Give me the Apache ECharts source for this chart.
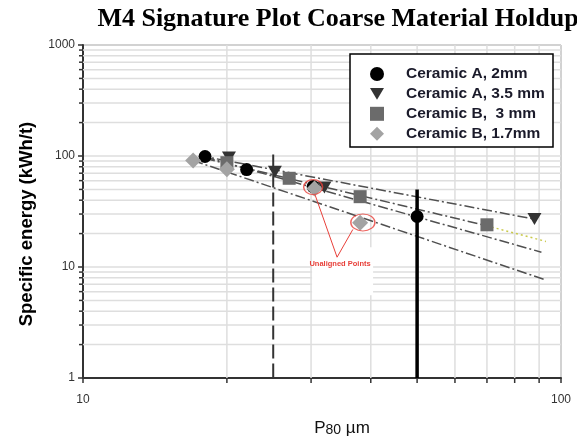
<!DOCTYPE html>
<html><head><meta charset="utf-8">
<script src="https://cdn.jsdelivr.net/npm/echarts@6/dist/echarts.min.js"></script>
<style>html,body{margin:0;padding:0;background:#fff}#c{width:577px;height:442px}</style>
</head><body><div id="c"></div>
<script>
// ---- data ----
const seriesNames = ['Ceramic A, 2mm', 'Ceramic A, 3.5 mm', 'Ceramic B,  3 mm', 'Ceramic B, 1.7mm'];
const ceramicA2  = [[18, 99], [22, 75.5], [30.3, 53], [50, 28.5]];
const ceramicA35 = [[20.2, 97], [25.2, 72], [32, 52], [88, 27]];
const ceramicB3  = [[20, 87], [27, 63], [38, 43], [70, 24]];
const ceramicB17 = [[17, 91], [20, 76], [30.5, 51], [38, 25]];
const trendA35 = [[17.5, 101], [88, 27]];
const trendB3 = [[18, 95], [70, 23.5]];
const trendB3Ext = [[70, 23.5], [93, 17]];
const trendA2 = [[18, 98], [91, 13.6]];
const trendB17 = [[17, 91], [92, 7.75]];
const refDashed = [[25, 103], [25, 1]];
const refSolid = [[50, 50], [50, 1]];
const xMinor = [20, 30, 40, 50, 60, 70, 80, 90];
const yMinor = [2,3,4,5,6,7,8,9,20,30,40,50,60,70,80,90,200,300,400,500,600,700,800,900];
const annotPoints = [[30.3, 52.5], [38.5, 25.2]];
const annotLabelAt = [34.5, 10.6];
const annotText = 'Unaligned Points';
const yAxisTitle = 'Specific energy (kWh/t)';

const chart = echarts.init(document.getElementById('c'));
const GRID = '#dedede';
const trendStyle = {color: '#505050', width: 1.5, type: [10, 3, 2, 3]};

function gridSeries(vals, isX) {
  return {
    type: 'custom', silent: true, z: 1, clip: false,
    data: vals.map(v => isX ? [v, 1] : [10, v]),
    encode: {x: 0, y: 1},
    renderItem(params, api) {
      if (isX) {
        const v = api.value(0);
        const a = api.coord([v, 1]), b = api.coord([v, 1000]);
        return {type: 'group', children: [
          {type: 'line', shape: {x1: a[0], y1: a[1], x2: b[0], y2: b[1]}, style: {stroke: GRID, lineWidth: 1.5}},
          {type: 'line', shape: {x1: a[0], y1: a[1], x2: a[0], y2: a[1] + 5}, style: {stroke: '#333', lineWidth: 1.5}}
        ]};
      } else {
        const v = api.value(1);
        const a = api.coord([10, v]), b = api.coord([100, v]);
        return {type: 'group', children: [
          {type: 'line', shape: {x1: a[0], y1: a[1], x2: b[0], y2: b[1]}, style: {stroke: GRID, lineWidth: 1.5}},
          {type: 'line', shape: {x1: a[0] - 4, y1: a[1], x2: a[0], y2: a[1]}, style: {stroke: '#333', lineWidth: 1.5}}
        ]};
      }
    }
  };
}
function trend(data, style) {
  return {type: 'line', data, symbol: 'none', silent: true, z: 3, lineStyle: style, animation: false};
}
const triPath = 'path://M0,0 L12,0 L6,10 Z';

chart.setOption({
  animation: false,
  title: {text: 'M4 Signature Plot Coarse Material Holdup', left: 333, top: 1, textAlign: 'center',
    textStyle: {fontFamily: 'Liberation Serif', fontWeight: 'bold', fontSize: 26, color: '#000'}},
  grid: {left: 83, right: 16, top: 45, bottom: 63, show: true, borderColor: '#666', borderWidth: 1, backgroundColor: 'transparent'},
  xAxis: {type: 'log', logBase: 10, min: 10, max: 100,
    name: '{p|P}{s|80}{p| µm}', nameLocation: 'middle', nameGap: 38,
    nameTextStyle: {padding: [0, 0, 0, 40], rich: {p: {fontFamily: 'Liberation Sans', fontSize: 17, color: '#111', verticalAlign: 'bottom'},
      s: {fontFamily: 'Liberation Sans', fontSize: 14, color: '#111', padding: [7, 0, 0, 0], verticalAlign: 'bottom'}}},
    axisLine: {lineStyle: {color: '#333', width: 2}},
    axisTick: {show: true, length: 5, lineStyle: {color: '#333', width: 1.5}},
    axisLabel: {fontFamily: 'Liberation Sans', fontSize: 12, color: '#333', margin: 16,
      formatter: v => (Math.abs(v - 10) < 1e-6 || Math.abs(v - 100) < 1e-6) ? String(Math.round(v)) : ''},
    splitLine: {show: true, lineStyle: {color: GRID, width: 1.5}}},
  yAxis: {type: 'log', logBase: 10, min: 1, max: 1000,
    axisLine: {lineStyle: {color: '#333', width: 2}},
    axisTick: {show: true, length: 5, lineStyle: {color: '#333', width: 1.5}},
    axisLabel: {fontFamily: 'Liberation Sans', fontSize: 12, color: '#333', margin: 8,
      formatter: v => String(Math.round(v))},
    splitLine: {show: true, lineStyle: {color: GRID, width: 1.5}}},
  legend: {orient: 'vertical', left: 365, top: 61, itemGap: 3.9, itemWidth: 14, itemHeight: 14, z: 10,
    data: seriesNames, selectedMode: false,
    formatter: n => '{t|' + n + '}',
    textStyle: {rich: {t: {fontFamily: 'Liberation Sans', fontWeight: 'bold', fontSize: 15.5, lineHeight: 14, color: '#1a1a2a', padding: [0, 0, 0, 17]}}}},
  series: [
    gridSeries(xMinor, true),
    gridSeries(yMinor, false),
    trend(trendA35, trendStyle),
    trend(trendB3, trendStyle),
    trend(trendB3Ext, {color: '#c9c94a', width: 1.5, type: [2, 3]}),
    trend(trendA2, trendStyle),
    trend(trendB17, trendStyle),
    {type: 'line', data: refDashed, symbol: 'none', silent: true, z: 3, lineStyle: {color: '#333', width: 2, type: [14, 5]}},
    {type: 'line', data: refSolid, symbol: 'none', silent: true, z: 3, lineStyle: {color: '#000', width: 3.5}},
    {name: seriesNames[0], type: 'scatter', z: 5, data: ceramicA2, symbol: 'circle', symbolSize: 13, itemStyle: {color: '#000', opacity: 1}},
    {name: seriesNames[1], type: 'scatter', z: 5, data: ceramicA35, symbol: triPath, symbolSize: [14, 12], itemStyle: {color: '#333', opacity: 1}},
    {name: seriesNames[2], type: 'scatter', z: 5, data: ceramicB3, symbol: 'rect', symbolSize: 13, itemStyle: {color: '#6b6b6b', opacity: 1}},
    {name: seriesNames[3], type: 'scatter', z: 6, data: ceramicB17, symbol: 'diamond', symbolSize: 16, itemStyle: {color: '#a3a3a3', opacity: 1}},
    {type: 'scatter', z: 7, silent: true, data: annotPoints, symbol: 'circle',
      symbolSize: (v, p) => p.dataIndex === 0 ? [19, 15] : [24, 17],
      itemStyle: {color: 'rgba(0,0,0,0)', borderColor: '#e8403a', borderWidth: 1.3}}
  ]
});

const toPx = c => chart.convertToPixel({xAxisIndex: 0, yAxisIndex: 0}, c);
const c1 = toPx(annotPoints[0]), c2 = toPx(annotPoints[1]), lab = toPx(annotLabelAt);
chart.setOption({graphic: [
  {type: 'rect', z: 2, silent: true, shape: {x: lab[0] - 28, y: lab[1] - 17, width: 61, height: 48}, style: {fill: '#fff'}},
  {type: 'line', z: 8, silent: true, shape: {x1: lab[0] - 3, y1: lab[1] - 7, x2: c1[0] + 2, y2: c1[1] + 8}, style: {stroke: '#e8403a', lineWidth: 1}},
  {type: 'line', z: 8, silent: true, shape: {x1: lab[0] - 3, y1: lab[1] - 7, x2: c2[0] - 10, y2: c2[1] + 7}, style: {stroke: '#e8403a', lineWidth: 1}},
  {type: 'text', z: 8, silent: true, x: lab[0], y: lab[1], style: {text: annotText, fill: '#e8403a', font: 'bold 7.5px "Liberation Sans"', align: 'center', verticalAlign: 'middle'}},
  {type: 'rect', z: 4, silent: true, shape: {x: 350, y: 54, width: 203, height: 93}, style: {fill: '#fff', stroke: '#000', lineWidth: 1.5}},
  {type: 'text', z: 8, silent: true, x: 27, y: 224, rotation: Math.PI / 2, style: {text: yAxisTitle, fill: '#000', font: 'bold 18.5px "Liberation Sans"', align: 'center', verticalAlign: 'middle'}}
]});
</script></body></html>
